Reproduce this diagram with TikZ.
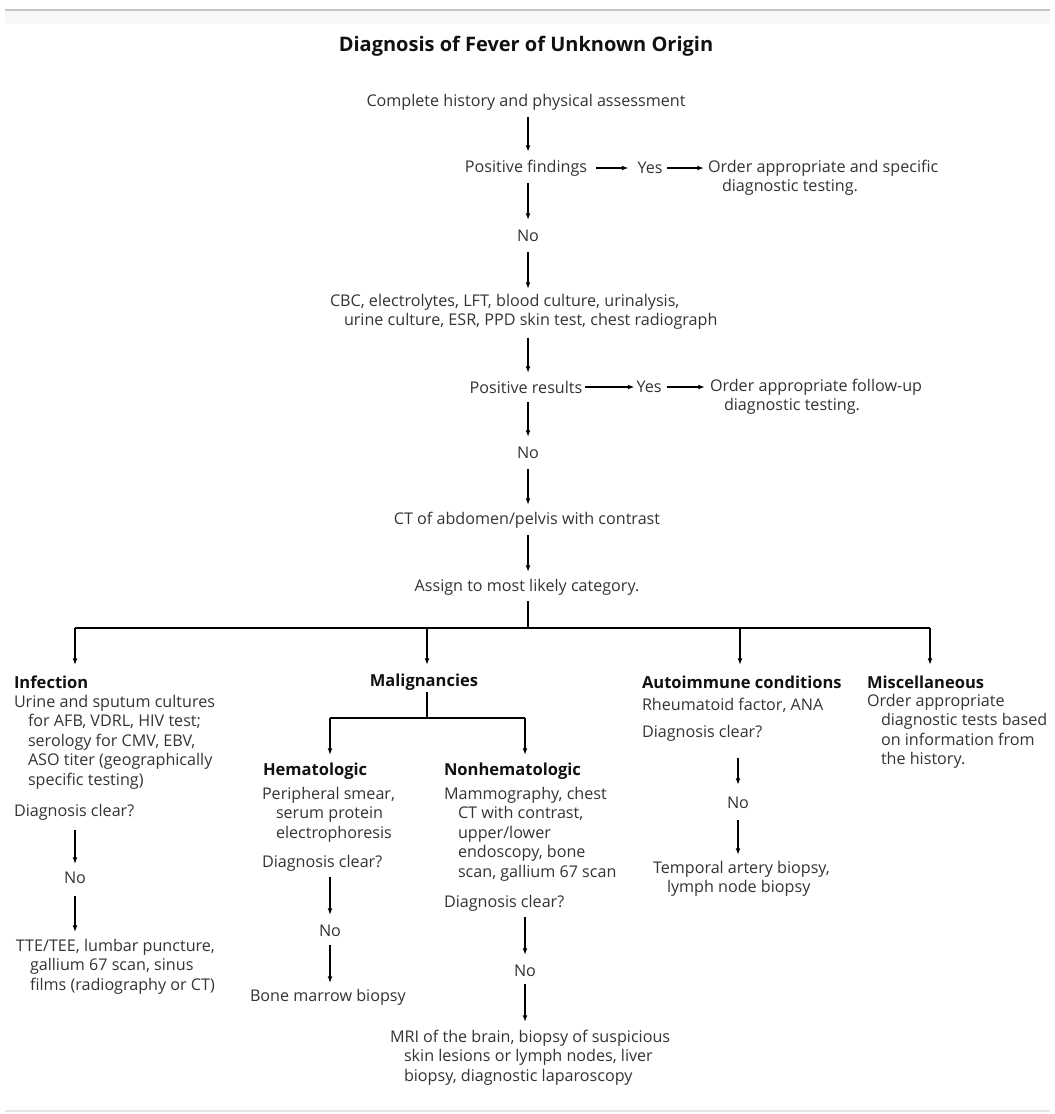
\documentclass[tikz,border=0pt]{standalone}
\usepackage{fontspec}
\setmainfont{Open Sans}
\usetikzlibrary{arrows.meta,calc}
\definecolor{txt}{HTML}{333333}
\definecolor{hdr}{HTML}{111111}
\newcommand{\hi}{\hspace*{10.5pt}}
\begin{document}
\begin{tikzpicture}[x=0.75pt,y=-0.75pt,
  every node/.style={inner sep=0pt,outer sep=0pt,text=txt,font=\fontsize{12.1}{14.6}\selectfont},
  tl/.style={anchor=north west,align=left},
  hd/.style={font=\bfseries\fontsize{12.4}{14}\selectfont,text=hdr},
  ln/.style={draw=black,line width=1pt},
  arr/.style={draw=black,line width=1pt,-{Latex[length=5pt,width=3.6pt]}}]
\useasboundingbox (0,0) rectangle (1055,1114);
\fill[gray!6] (5,10) rectangle (1050,24);
\draw[gray!45,line width=1.2pt] (5,10) -- (1050,10);
\draw[gray!20,line width=1.2pt] (5,1111) -- (1050,1111);

% column coordinates
\coordinate (main) at (528,0);
\coordinate (cInf) at (75,628);
\coordinate (cMal) at (427,628);
\coordinate (cAut) at (740,628);
\coordinate (cMis) at (930,628);
\coordinate (bar) at (528,628);
\coordinate (cHem) at (330,718);
\coordinate (cNon) at (525,718);

% main column
\node[font=\bfseries\fontsize{15}{17}\selectfont,text=hdr] (title) at (526,46) {Diagnosis of Fever of Unknown Origin};
\node (hist) at (526,102) {Complete history and physical assessment};
\node (posf) at (526,168) {Positive findings};
\node (yes1) at (650,168) {Yes};
\node[tl] (ord1) at (708,160) {Order appropriate and specific\\\hi diagnostic testing.};
\node (no1) at (528,236) {No};
\node[tl] (cbc) at (330,294) {CBC, electrolytes, LFT, blood culture, urinalysis,\\\hi urine culture, ESR, PPD skin test, chest radiograph};
\node (posr) at (526,387) {Positive results};
\node (yes2) at (649,387) {Yes};
\node[tl] (ord2) at (710,379) {Order appropriate follow-up\\\hi diagnostic testing.};
\node (no2) at (528,453) {No};
\node (ct) at (527,520) {CT of abdomen/pelvis with contrast};
\node (assign) at (527,587) {Assign to most likely category.};

% category headers
\node[hd,anchor=west] (infH) at (14,682) {Infection};
\node[hd] (malH) at (424,682) {Malignancies};
\node[hd,anchor=west] (autH) at (642,682) {Autoimmune conditions};
\node[hd,anchor=west] (misH) at (867,682) {Miscellaneous};

% infection
\node[tl] (infB) at (14,695) {Urine and sputum cultures\\\hi for AFB, VDRL, HIV test;\\\hi serology for CMV, EBV,\\\hi ASO titer (geographically\\\hi specific testing)};
\node[anchor=west] (infDx) at (14,812) {Diagnosis clear?};
\node (infNo) at (75,878) {No};
\node[tl] (infR) at (16,939) {TTE/TEE, lumbar puncture,\\\hi gallium 67 scan, sinus\\\hi films (radiography or CT)};

% malignancies
\node[hd,anchor=west] (hemH) at (263,771) {Hematologic};
\node[hd,anchor=west] (nonH) at (444,771) {Nonhematologic};
\node[tl] (hemB) at (262,787) {Peripheral smear,\\\hi serum protein\\\hi electrophoresis};
\node[anchor=west] (hemDx) at (262,863) {Diagnosis clear?};
\node (hemNo) at (330,931) {No};
\node[anchor=west] (hemR) at (250,997) {Bone marrow biopsy};
\node[tl] (nonB) at (444,787) {Mammography, chest\\\hi CT with contrast,\\\hi upper/lower\\\hi endoscopy, bone\\\hi scan, gallium 67 scan};
\node[anchor=west] (nonDx) at (444,903) {Diagnosis clear?};
\node (nonNo) at (525,971) {No};
\node[tl] (nonR) at (390,1030) {MRI of the brain, biopsy of suspicious\\\hi skin lesions or lymph nodes, liver\\\hi biopsy, diagnostic laparoscopy};

% autoimmune
\node[anchor=west] (autB) at (642,705) {Rheumatoid factor, ANA};
\node[anchor=west] (autDx) at (642,733) {Diagnosis clear?};
\node (autNo) at (738,803) {No};
\node[tl] (autR) at (653,861) {Temporal artery biopsy,\\\hi lymph node biopsy};

% miscellaneous
\node[tl] (misB) at (867,694) {Order appropriate\\\hi diagnostic tests based\\\hi on information from\\\hi the history.};

% connectors: main column
\draw[arr] ($(main |- hist)+(0,15)$) -- ($(main |- posf)+(0,-16)$);
\draw[arr] ($(posf.east)+(9,0)$) -- ($(yes1.west)+(-9,0)$);
\draw[arr] ($(yes1.east)+(5,0)$) -- ($(ord1.north west)+(-4,8)$);
\draw[arr] ($(main |- posf)+(0,15)$) -- ($(main |- no1)+(0,-16)$);
\draw[arr] ($(main |- no1)+(0,16)$) -- ($(main |- cbc.north)+(0,-5)$);
\draw[arr] ($(main |- cbc.south)+(0,8)$) -- ($(main |- posr)+(0,-14)$);
\draw[arr] ($(posr.east)+(3,0)$) -- ($(yes2.west)+(-2,0)$);
\draw[arr] ($(yes2.east)+(6,0)$) -- ($(ord2.north west)+(-5,8)$);
\draw[arr] ($(main |- posr)+(0,15)$) -- ($(main |- no2)+(0,-16)$);
\draw[arr] ($(main |- no2)+(0,16)$) -- ($(main |- ct)+(0,-15)$);
\draw[arr] ($(main |- ct)+(0,15)$) -- ($(main |- assign)+(0,-15)$);
\draw[ln] ($(main |- assign)+(0,14)$) -- (bar);
\draw[ln] (cInf) -- (cMis);
\draw[arr] (cInf) -- ($(cInf |- infH)+(0,-17)$);
\draw[arr] (cMal) -- ($(cMal |- malH)+(0,-17)$);
\draw[arr] (cAut) -- ($(cAut |- autH)+(0,-17)$);
\draw[arr] (cMis) -- ($(cMis |- misH)+(0,-17)$);

% infection chain
\draw[arr] ($(infNo |- infDx)+(0,18)$) -- ($(infNo)+(0,-14)$);
\draw[arr] ($(infNo)+(0,18)$) -- ($(infNo |- infR.north)+(0,-7)$);

% malignancies split
\draw[ln] ($(cMal |- malH)+(0,10)$) -- (cMal |- cHem);
\draw[ln] (cHem) -- (cNon);
\draw[arr] (cHem) -- ($(cHem |- hemH)+(0,-16)$);
\draw[arr] (cNon) -- ($(cNon |- nonH)+(0,-16)$);
\draw[arr] ($(hemNo |- hemDx)+(0,14)$) -- ($(hemNo)+(0,-16)$);
\draw[arr] ($(hemNo)+(0,14)$) -- ($(hemNo |- hemR)+(0,-14)$);
\draw[arr] ($(nonNo |- nonDx)+(0,14)$) -- ($(nonNo)+(0,-16)$);
\draw[arr] ($(nonNo)+(0,13)$) -- ($(nonNo |- nonR.north)+(0,-8)$);

% autoimmune chain
\draw[arr] ($(autNo |- autDx)+(0,25)$) -- ($(autNo)+(0,-18)$);
\draw[arr] ($(autNo)+(0,17)$) -- ($(autNo |- autR.north)+(0,-6)$);
\end{tikzpicture}
\end{document}
